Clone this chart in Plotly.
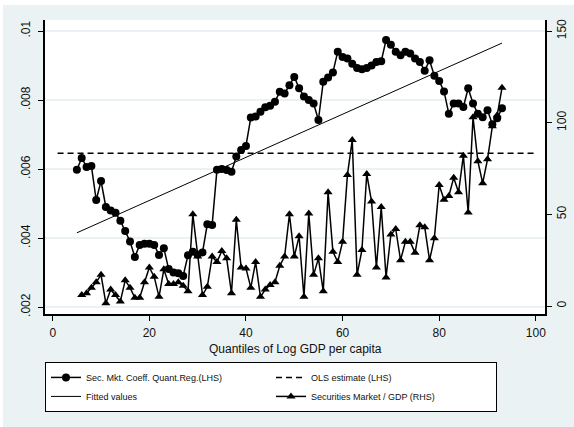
import plotly.graph_objects as go

# Quantile-regression coefficient of the securities market (left axis)
coef_quantiles = list(range(5, 94))
coef_values = [
    0.00598, 0.00632, 0.00606, 0.00609, 0.00510, 0.00565, 0.00490, 0.00480, 0.00473, 0.00450,
    0.00420, 0.00390, 0.00345, 0.00380, 0.00383, 0.00383, 0.00380, 0.00351, 0.00370, 0.00310,
    0.00300, 0.00298, 0.00290, 0.00350, 0.00360, 0.00352, 0.00358, 0.00440, 0.00438, 0.00598,
    0.00600, 0.00597, 0.00592, 0.00636, 0.00655, 0.00667, 0.00749, 0.00752, 0.00766, 0.00779,
    0.00783, 0.00795, 0.00824, 0.00819, 0.00843, 0.00867, 0.00834, 0.00810, 0.00800, 0.00790,
    0.00742, 0.00853, 0.00865, 0.00880, 0.00940, 0.00925, 0.00920, 0.00905, 0.00893, 0.00889,
    0.00893, 0.00900, 0.00910, 0.00912, 0.00974, 0.00960, 0.00940, 0.00930, 0.00940, 0.00935,
    0.00920, 0.00910, 0.00885, 0.00915, 0.00870, 0.00855, 0.00825, 0.00760, 0.00790, 0.00790,
    0.00780, 0.00834, 0.00790, 0.00760, 0.00750, 0.00770, 0.00730, 0.00747, 0.00776,
]

# Securities market capitalisation / GDP by quantile (right axis)
sec_quantiles = list(range(6, 94))
sec_values = [
    6, 7, 10, 13, 17, 1.5, 9, 6, 2.5, 14,
    10, 4.5, 4.5, 13, 21, 16, 5, 20, 12, 12,
    13, 11, 8, 50, 27, 6, 10.5, 27, 24, 30,
    26, 7, 47, 21, 20.5, 10, 24, 5, 9, 11.5,
    13, 22, 27, 50, 27, 38, 5, 50.5, 17, 26,
    8, 62, 29.6, 24, 35, 71.5, 90.5, 17, 30.5, 72,
    57, 21, 54, 15.6, 39, 42, 25, 35, 35, 29,
    44, 43, 25, 37, 66, 58, 60, 70, 62, 82,
    51, 103, 79, 67, 80, 98, 104, 119,
]

# Linear fit of the coefficients and the OLS benchmark
fitted_quantiles = [5, 93]
fitted_values = [0.00415, 0.00965]
ols_quantiles = [1, 100]
ols_values = [0.00646, 0.00646]

left_ticks = [0.002, 0.004, 0.006, 0.008, 0.01]
left_labels = [".002", ".004", ".006", ".008", ".01"]
right_ticks = [0, 50, 100, 150]
right_labels = ["0", "50", "100", "150"]
x_ticks = [0, 20, 40, 60, 80, 100]
x_title = "Quantiles of Log GDP per capita"

FONT = "Liberation Sans, Arial, sans-serif"
PANEL = "#eaf2f3"

fig = go.Figure()

fig.add_trace(go.Scatter(
    x=coef_quantiles, y=coef_values, mode="lines+markers",
    name="Sec. Mkt. Coeff. Quant.Reg.(LHS)",
    line=dict(color="black", width=1.5),
    marker=dict(symbol="circle", size=8, color="black"),
))
fig.add_trace(go.Scatter(
    x=ols_quantiles, y=ols_values, mode="lines",
    name="OLS estimate (LHS)",
    line=dict(color="black", width=1.5, dash="6px,4px"),
))
fig.add_trace(go.Scatter(
    x=fitted_quantiles, y=fitted_values, mode="lines",
    name="Fitted values",
    line=dict(color="black", width=1),
))
fig.add_trace(go.Scatter(
    x=sec_quantiles, y=sec_values, mode="lines+markers", yaxis="y2",
    name="Securities Market / GDP (RHS)",
    line=dict(color="black", width=1.5),
    marker=dict(symbol="triangle-up", size=8, color="black"),
))

axis_font = dict(family=FONT, size=12, color="#111111")

fig.update_layout(
    width=574, height=427,
    margin=dict(l=45, r=29, t=20, b=113, autoexpand=False),
    paper_bgcolor=PANEL,
    plot_bgcolor="white",
    font=dict(family=FONT, color="#111111"),
    showlegend=True,
    xaxis=dict(
        range=[-1.6, 101.9], tickvals=x_ticks,
        ticks="outside", ticklen=5, tickcolor="black", tickwidth=1,
        showline=True, linecolor="black", linewidth=1.5,
        showgrid=False, zeroline=False, tickfont=axis_font,
        ticklabelstandoff=2,
    ),
    yaxis=dict(
        range=[0.001797, 0.010319], tickvals=left_ticks, ticktext=left_labels,
        tickangle=-90, ticks="outside", ticklen=5, tickcolor="black", tickwidth=1,
        showline=True, linecolor="black", linewidth=1.5,
        showgrid=True, gridcolor=PANEL, gridwidth=1.5, zeroline=False,
        tickfont=axis_font, ticklabelstandoff=3,
    ),
    yaxis2=dict(
        range=[-4.36, 156], tickvals=right_ticks, ticktext=right_labels,
        overlaying="y", side="right",
        tickangle=-90, ticks="outside", ticklen=5, tickcolor="black", tickwidth=1,
        showline=True, linecolor="black", linewidth=1.5,
        showgrid=False, zeroline=False, tickfont=axis_font,
    ),
    legend=dict(
        orientation="h", x=0, xanchor="left", y=-0.163, yanchor="top",
        bgcolor="white", bordercolor="black", borderwidth=1,
        font=dict(family=FONT, size=9, color="#111111"),
        entrywidth=180, entrywidthmode="pixels",
        traceorder="normal",
    ),
)

# x-axis title, placed just under the tick labels
fig.add_annotation(text=x_title, xref="paper", yref="paper",
                   x=0.5, y=-0.118, xanchor="center", yanchor="middle",
                   showarrow=False, font=axis_font)

# thin white strip along the top and left edge of the page
fig.add_shape(type="rect", xref="paper", yref="paper",
              x0=-0.1, x1=1.1, y0=(314 - 5) / 294, y1=1.1,
              fillcolor="white", line=dict(width=0), layer="below")
fig.add_shape(type="rect", xref="paper", yref="paper",
              x0=-0.1, x1=(3 - 45) / 500, y0=-0.4, y1=1.1,
              fillcolor="white", line=dict(width=0), layer="below")

fig.write_html("out.html")
